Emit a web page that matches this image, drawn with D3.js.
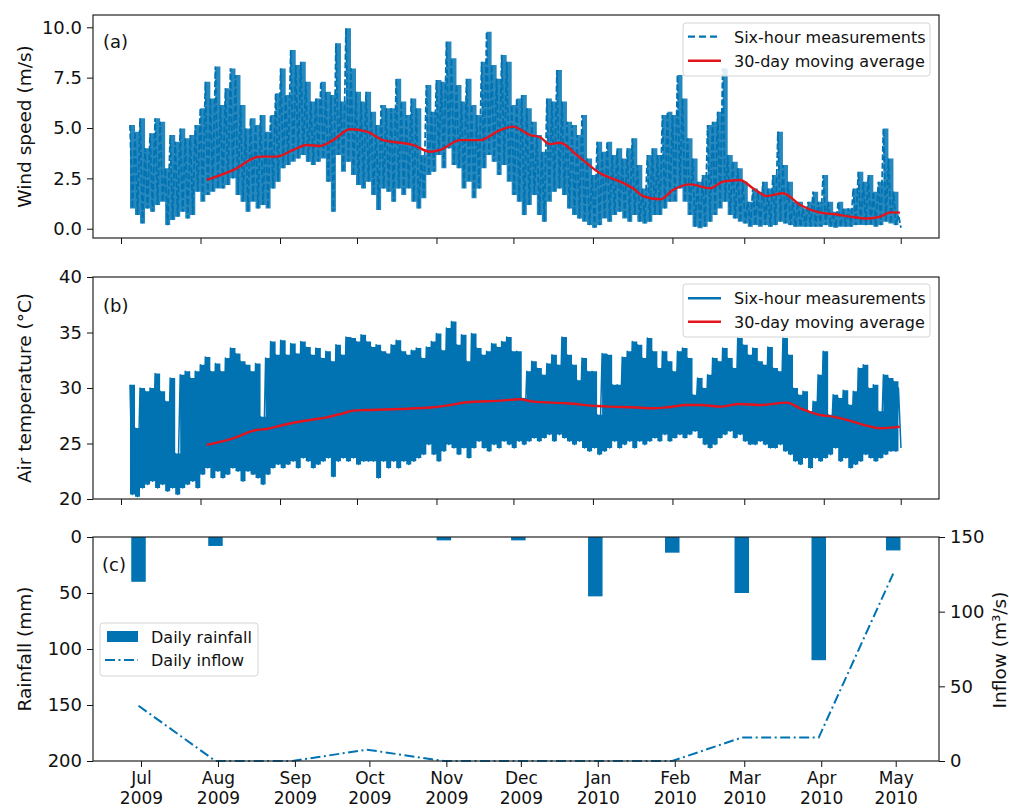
<!DOCTYPE html>
<html>
<head>
<meta charset="utf-8">
<script src="https://cdn.jsdelivr.net/npm/d3@7"></script>
<style>
body { margin: 0; background: #fff; }
svg { display: block; font-family: "DejaVu Sans", sans-serif; }
</style>
</head>
<body>
<div id="chart"></div>
<script>
const sixHourStart = "2009-07-04T12:00:00Z";
const sixHourStepHours = 47;

const windHigh = [
  5.15,4.82,5.48,3.99,4.74,5.48,5.31,3.0,4.65,4.32,
  4.98,4.49,4.65,5.15,5.98,7.30,6.47,8.05,6.14,6.97,
  7.96,7.63,6.14,4.98,5.48,5.15,5.65,4.82,5.65,6.72,
  7.96,6.64,8.87,8.13,8.29,7.30,6.31,6.47,7.30,6.80,
  6.64,9.21,6.31,9.95,7.96,6.80,6.31,6.80,5.81,5.15,
  6.14,5.98,
  5.98,7.45,6.31,5.65,6.47,5.98,3.66,7.14,5.81,7.38,
  7.30,9.29,8.46,7.14,6.31,7.45,6.14,5.65,8.29,9.78,
  8.13,7.45,8.63,8.29,6.14,6.47,6.64,5.98,5.31,4.65,
  3.82,6.47,6.31,7.88,6.31,5.31,5.15,4.65,5.65,3.49,
  2.67,4.32,3.82,4.32,3.66,3.99,3.49,3.99,4.49,3.16,
  2.0,3.66,3.99,
  3.66,5.65,5.81,5.65,7.63,6.47,4.49,3.49,2.33,2.67,
  5.15,5.31,5.81,7.96,3.66,3.33,3.0,2.33,1.34,2.0,
  1.84,2.33,2.0,2.67,4.82,3.16,2.33,1.34,1.34,1.01,
  1.34,1.84,1.34,2.67,1.34,0.84,1.34,1.01,1.01,2.0,
  2.83,2.33,2.67,1.84,2.33,4.98,3.49,1.84,0.68
];
const windLow = [
  1.01,0.68,0.26,1.01,0.84,1.18,1.34,0.18,0.43,0.6,
  0.84,0.51,0.68,1.84,1.34,1.67,1.84,2.0,2.0,2.17,
  2.5,1.67,1.34,0.84,1.34,1.01,1.18,1.01,2.0,2.33,
  3.0,3.16,3.33,3.49,3.66,3.33,3.16,3.33,3.49,2.33,
  0.84,3.66,2.83,3.33,2.67,2.17,2.0,2.33,1.67,0.93,
  2.0,1.84,
  1.34,2.0,1.67,2.0,1.34,1.01,1.51,2.67,2.83,3.66,
  3.0,3.99,3.16,3.0,2.0,2.33,1.51,2.0,3.0,3.66,
  3.33,2.67,3.16,2.33,1.67,1.34,0.68,1.18,1.67,0.68,
  0.35,1.34,1.84,2.0,1.67,1.01,0.68,0.51,0.35,0.18,
  0.05,0.18,0.51,0.35,0.68,0.84,0.51,0.35,0.68,0.35,
  0.26,0.35,0.68,
  0.68,1.01,1.34,1.34,2.0,1.34,0.68,0.1,0.02,0.1,
  0.35,0.68,1.01,1.34,0.68,0.51,0.35,0.26,0.1,0.18,
  0.1,0.18,0.1,0.18,0.35,0.26,0.18,0.1,0.1,0.1,
  0.1,0.1,0.1,0.18,0.1,0.05,0.1,0.1,0.1,0.18,
  0.18,0.18,0.18,0.1,0.18,0.35,0.26,0.18,0.05
];

const tempHigh = [
  30.3,26.4,30.0,29.7,30.0,31.3,29.7,28.8,30.9,24.1,
  31.2,31.5,30.9,31.5,32.1,32.8,31.5,32.2,31.5,32.7,
  33.6,33.1,32.4,32.1,31.5,32.2,27.4,32.7,34.2,33.0,
  34.3,33.0,34.0,33.1,34.2,33.7,33.0,33.6,32.7,33.3,
  32.4,33.9,33.0,34.6,34.5,34.2,34.8,34.2,33.7,33.9,
  33.3,33.1,
  33.9,34.3,33.3,33.0,33.4,33.6,32.7,33.7,34.2,34.9,
  33.4,35.4,36.0,33.9,34.8,32.4,34.9,33.6,33.0,33.3,
  34.0,33.7,34.2,34.6,33.3,33.3,29.1,31.5,32.4,31.8,
  31.2,32.2,33.0,32.1,34.6,33.0,32.1,30.7,32.7,31.5,
  31.5,27.6,33.1,33.0,30.3,30.3,32.8,33.3,34.2,33.9,
  32.7,34.5,33.3,
  31.8,33.3,32.4,31.5,33.3,33.6,32.7,29.4,30.9,30.0,
  31.2,32.7,32.4,33.6,32.7,31.8,34.5,33.9,33.0,33.6,
  32.4,32.1,33.7,31.8,31.5,34.5,33.0,30.0,29.4,29.7,
  27.9,28.8,31.2,33.3,27.6,29.4,29.1,29.8,28.5,29.7,
  31.8,32.1,30.0,30.3,27.9,31.2,30.9,30.6,30.0
];
const tempLow = [
  20.4,20.2,21.0,21.3,21.6,21.0,21.3,20.7,21.0,20.4,
  21.0,21.3,21.6,21.0,22.2,22.8,21.9,22.5,21.9,22.2,
  22.8,22.5,21.6,22.5,22.2,21.9,21.3,22.2,22.8,23.1,
  22.8,23.1,23.4,22.8,23.7,23.4,22.8,23.1,23.4,23.7,
  22.0,23.4,23.7,23.4,23.7,23.1,23.4,23.4,23.4,21.9,
  23.4,22.8,
  23.4,22.8,23.4,23.1,23.4,23.7,24.0,24.9,24.0,23.4,
  24.3,24.9,24.6,24.0,24.6,23.7,24.6,25.2,24.6,24.3,
  24.9,24.6,25.2,24.9,24.6,25.2,24.9,25.2,25.5,25.2,
  25.5,25.8,25.2,25.8,25.5,25.2,24.9,25.2,24.6,24.3,
  24.6,24.0,24.3,24.6,25.2,24.6,24.9,25.2,24.6,25.2,
  24.9,25.2,25.5,
  25.2,25.8,25.2,25.5,25.8,25.5,25.8,26.1,25.5,24.9,
  24.6,24.9,25.5,25.8,26.1,25.5,25.8,25.2,24.9,24.9,
  25.2,24.9,24.6,24.6,24.9,24.3,24.0,23.4,23.1,23.7,
  22.8,23.7,23.4,23.7,24.0,24.6,23.4,23.7,22.8,23.1,
  23.4,24.0,23.7,23.4,23.7,24.0,24.3,24.3,24.6
];

// 30-day moving averages (days after 1 Jul 2009)
const windAvgDay = [33.4,43.7,54.2,60.7,67.1,72.4,77.6,82.7,89.3,95.8,102.2,108.8,113.8,120.5,124.4,132.2,140,147.8,152.8,159.5,163.4,167.3,171.2,177.7,186.8,194.6,199.6,203.5,210.2,215.2,221.9,229.7,234.7,241.3,246.4,251.9,258.1,264.8,272.6,277.7,284.3,291,296,300,303.7];
const windAvgValue = [2.42,2.91,3.58,3.58,3.91,4.16,4.11,4.40,4.94,4.82,4.40,4.27,4.16,3.82,3.91,4.40,4.40,4.90,5.07,4.65,4.54,4.20,4.27,3.66,2.75,2.34,2.01,1.62,1.46,1.92,2.20,2.01,2.34,2.42,2.01,1.62,1.76,1.18,0.80,0.73,0.60,0.51,0.60,0.81,0.80];
const tempAvgDay = [33.4,43.7,52.9,56.8,63.2,73.7,80.2,86.6,90.5,95.8,108.8,121.6,128.3,134.8,147.8,155.6,160.6,173.8,185.5,190.7,199.6,207.4,212.9,220.6,225.7,233.5,241.3,249.1,259.6,264.8,272.6,277.6,285.4,290.7,296,303.7];
const tempAvgValue = [24.88,25.47,26.22,26.31,26.67,27.12,27.36,27.72,27.96,28.02,28.11,28.26,28.47,28.71,28.86,28.98,28.77,28.62,28.38,28.32,28.26,28.17,28.26,28.47,28.47,28.32,28.56,28.47,28.68,28.17,27.57,27.42,26.97,26.61,26.38,26.52];

// Monthly rainfall and inflow
const monthDates = ["2009-06-30","2009-07-31","2009-08-31","2009-09-30","2009-10-31","2009-11-30","2009-12-31","2010-01-31","2010-02-28","2010-03-31","2010-04-30"];
const rainfall = [40, 8, 0, 0, 3, 3, 53, 14, 50, 110, 12];
const inflow = [37, 0, 0, 7.6, 0, 0, 0, 0, 15.7, 15.7, 125.5];

// Axis ticks
const windTicks = [0, 2.5, 5, 7.5, 10];
const tempTicks = [20, 25, 30, 35, 40];
const rainTicks = [0, 50, 100, 150, 200];
const flowTicks = [0, 50, 100, 150];

const BLUE = "#0173b2", RED = "#e3141c";
const W = 1009, H = 809, left = 93, right = 939;
const panels = { a: [15, 238], b: [277, 499], c: [537, 761] };
const DAY = 864e5;
const parseDay = d3.utcParse("%Y-%m-%d");
const jul1 = parseDay("2009-07-01");

const svg = d3.select("#chart").append("svg").attr("width", W).attr("height", H);

const xTop = d3.scaleUtc()
  .domain([new Date(+jul1 - 10.92 * DAY), new Date(+parseDay("2010-05-01") + 14.93 * DAY)])
  .range([left, right]);
const xBot = d3.scaleUtc()
  .domain([new Date(+jul1 - 19.33 * DAY), new Date(+parseDay("2010-05-01") + 17.44 * DAY)])
  .range([left, right]);

const yWind = d3.scaleLinear().domain([-0.46, 10.61]).range([panels.a[1], panels.a[0]]);
const yTemp = d3.scaleLinear().domain([20, 40]).range([panels.b[1], panels.b[0]]);
const yRain = d3.scaleLinear().domain([0, 200]).range([panels.c[0], panels.c[1]]);
const yFlow = d3.scaleLinear().domain([0, 150]).range([panels.c[1], panels.c[0]]);

// high/low pairs -> time ordered points
const stepMs = sixHourStepHours * 36e5;
const sixHour = (high, low) => {
  const start = new Date(sixHourStart);
  return high.flatMap((h, i) => [
    { t: new Date(+start + i * stepMs), v: h },
    { t: new Date(+start + i * stepMs + stepMs / 2), v: low[i] }
  ]);
};
const band = (high, low) => {
  const start = new Date(sixHourStart);
  return high.map((h, i) => ({ t: new Date(+start + i * stepMs), hi: h, lo: low[i] }));
};
const avgPoints = (days, vals) => days.map((d, i) => ({ t: new Date(+jul1 + d * DAY), v: vals[i] }));

const styleAxis = g => {
  g.attr("font-family", "DejaVu Sans").attr("font-size", 18);
  g.select(".domain").remove();
  g.selectAll(".tick line").attr("stroke", "#111").attr("stroke-width", 1);
  g.selectAll(".tick text").attr("fill", "#111");
};

const drawFrame = ([y0, y1]) => {
  svg.append("rect")
    .attr("x", left).attr("y", y0).attr("width", right - left).attr("height", y1 - y0)
    .attr("fill", "none").attr("stroke", "#222").attr("stroke-width", 1.2);
};

const yLabel = (text, x, yc, rot) => {
  svg.append("text")
    .attr("transform", `translate(${x},${yc}) rotate(${rot})`)
    .attr("text-anchor", "middle").attr("font-size", 18.5).attr("fill", "#111")
    .text(text);
};

const legend = (x, y, w, h, rows) => {
  const g = svg.append("g");
  g.append("rect").attr("x", x).attr("y", y).attr("width", w).attr("height", h)
    .attr("rx", 3).attr("fill", "#fff").attr("fill-opacity", 0.85)
    .attr("stroke", "#d4d4d4").attr("stroke-width", 1);
  rows.forEach(r => {
    if (r.patch) {
      g.append("rect").attr("x", x + 7).attr("y", r.y - 5.5).attr("width", 31).attr("height", 11).attr("fill", BLUE);
    } else {
      g.append("line").attr("x1", x + 5).attr("x2", x + 38).attr("y1", r.y).attr("y2", r.y)
        .attr("stroke", r.color).attr("stroke-width", r.width).attr("stroke-dasharray", r.dash || null);
    }
    g.append("text").attr("x", x + 51).attr("y", r.y + 6).attr("font-size", 16).attr("fill", "#111").text(r.label);
  });
};

const line = (x, y) => d3.line().x(d => x(d.t)).y(d => y(d.v));
const area = (x, y) => d3.area().curve(d3.curveStepAfter).x(d => x(d.t)).y0(d => y(d.lo)).y1(d => y(d.hi));

// (a) wind speed
svg.append("path").datum(band(windHigh, windLow))
  .attr("d", area(xTop, yWind)).attr("fill", BLUE).attr("fill-opacity", 0.85);
svg.append("path").datum(sixHour(windHigh, windLow))
  .attr("d", line(xTop, yWind)).attr("fill", "none")
  .attr("stroke", BLUE).attr("stroke-width", 1.8).attr("stroke-dasharray", "6,2.5");
svg.append("path").datum(avgPoints(windAvgDay, windAvgValue))
  .attr("d", line(xTop, yWind).curve(d3.curveMonotoneX)).attr("fill", "none")
  .attr("stroke", RED).attr("stroke-width", 2.4).attr("stroke-linejoin", "round");
svg.append("g").attr("transform", `translate(${left},0)`)
  .call(d3.axisLeft(yWind).tickValues(windTicks).tickFormat(d3.format(".1f")).tickSize(6).tickPadding(5))
  .call(styleAxis);
svg.append("g").attr("transform", `translate(0,${panels.a[1]})`)
  .call(d3.axisBottom(xTop).ticks(d3.utcMonth.every(1)).tickFormat("").tickSize(6))
  .call(styleAxis);
drawFrame(panels.a);
yLabel("Wind speed (m/s)", 30.5, (panels.a[0] + panels.a[1]) / 2, -90);
svg.append("text").attr("x", 103).attr("y", 48).attr("font-size", 18).attr("fill", "#111").text("(a)");
legend(683, 23, 247, 53, [
  { y: 36.7, label: "Six-hour measurements", color: BLUE, width: 2.2, dash: "7,4" },
  { y: 60.7, label: "30-day moving average", color: RED, width: 2.4 }
]);

// (b) air temperature
svg.append("path").datum(band(tempHigh, tempLow))
  .attr("d", area(xTop, yTemp)).attr("fill", BLUE);
svg.append("path").datum(sixHour(tempHigh, tempLow))
  .attr("d", line(xTop, yTemp)).attr("fill", "none")
  .attr("stroke", BLUE).attr("stroke-width", 1.5).attr("stroke-linejoin", "round");
svg.append("path").datum(avgPoints(tempAvgDay, tempAvgValue))
  .attr("d", line(xTop, yTemp).curve(d3.curveMonotoneX)).attr("fill", "none")
  .attr("stroke", RED).attr("stroke-width", 2.4).attr("stroke-linejoin", "round");
svg.append("g").attr("transform", `translate(${left},0)`)
  .call(d3.axisLeft(yTemp).tickValues(tempTicks).tickSize(6).tickPadding(5))
  .call(styleAxis);
svg.append("g").attr("transform", `translate(0,${panels.b[1]})`)
  .call(d3.axisBottom(xTop).ticks(d3.utcMonth.every(1)).tickFormat("").tickSize(6))
  .call(styleAxis);
drawFrame(panels.b);
yLabel("Air temperature (°C)", 30.5, (panels.b[0] + panels.b[1]) / 2, -90);
svg.append("text").attr("x", 103).attr("y", 312).attr("font-size", 18).attr("fill", "#111").text("(b)");
legend(683, 284, 247, 53, [
  { y: 298.3, label: "Six-hour measurements", color: BLUE, width: 2.4 },
  { y: 321.7, label: "30-day moving average", color: RED, width: 2.4 }
]);

// (c) rainfall bars and inflow
const barDays = 5.84;
const monthly = monthDates.map((d, i) => ({ t: parseDay(d), rain: rainfall[i], flow: inflow[i] }));
svg.append("g").selectAll("rect").data(monthly).join("rect")
  .attr("x", d => xBot(new Date(+d.t - barDays / 2 * DAY)))
  .attr("width", d => xBot(new Date(+d.t + barDays / 2 * DAY)) - xBot(new Date(+d.t - barDays / 2 * DAY)))
  .attr("y", yRain(0))
  .attr("height", d => yRain(d.rain) - yRain(0))
  .attr("fill", BLUE);
svg.append("path").datum(monthly)
  .attr("d", d3.line().x(d => xBot(d.t)).y(d => yFlow(d.flow)))
  .attr("fill", "none").attr("stroke", BLUE).attr("stroke-width", 2)
  .attr("stroke-dasharray", "10,3.5,2,3.5");
svg.append("g").attr("transform", `translate(${left},0)`)
  .call(d3.axisLeft(yRain).tickValues(rainTicks).tickSize(6).tickPadding(5))
  .call(styleAxis);
svg.append("g").attr("transform", `translate(${right},0)`)
  .call(d3.axisRight(yFlow).tickValues(flowTicks).tickSize(6).tickPadding(5))
  .call(styleAxis);
const xAxisC = svg.append("g").attr("transform", `translate(0,${panels.c[1]})`)
  .call(d3.axisBottom(xBot).ticks(d3.utcMonth.every(1)).tickFormat("").tickSize(6))
  .call(styleAxis);
xAxisC.selectAll(".tick").each(function (d) {
  const t = d3.select(this).append("text").attr("text-anchor", "middle")
    .attr("fill", "#111").attr("font-size", 17);
  t.append("tspan").attr("x", 0).attr("y", 23).text(d3.utcFormat("%b")(d));
  t.append("tspan").attr("x", 0).attr("y", 43).text(d3.utcFormat("%Y")(d));
});
drawFrame(panels.c);
yLabel("Rainfall (mm)", 30.5, (panels.c[0] + panels.c[1]) / 2, -90);
yLabel("Inflow (m³/s)", 1005.5, 650, -90);
svg.append("text").attr("x", 102).attr("y", 571).attr("font-size", 18).attr("fill", "#111").text("(c)");
legend(100, 623, 158, 53, [
  { y: 636.5, label: "Daily rainfall", patch: true },
  { y: 660, label: "Daily inflow", color: BLUE, width: 2, dash: "10,3.5,2,3.5" }
]);
</script>
</body>
</html>
